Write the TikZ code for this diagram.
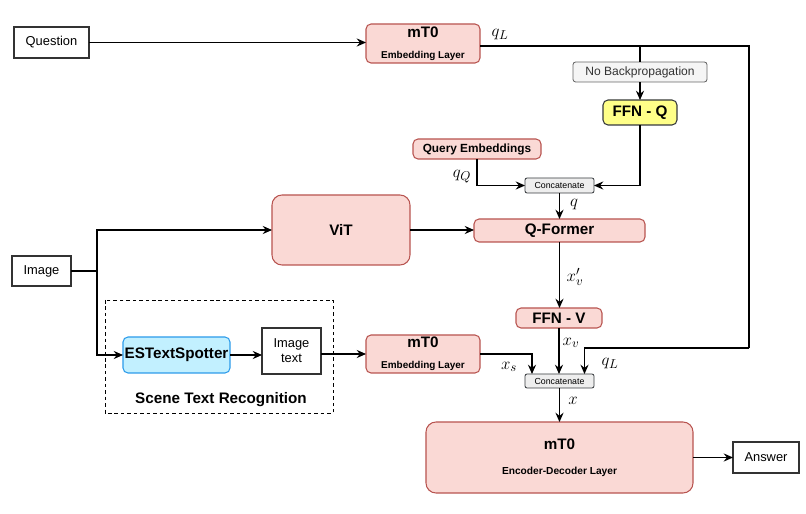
\documentclass[tikz,border=0pt]{standalone}
\usepackage{fontspec}
\setmainfont{Liberation Sans}
\usetikzlibrary{arrows.meta, calc}

\definecolor{pinkfill}{HTML}{FAD9D5}
\definecolor{pinkline}{HTML}{B85450}
\definecolor{yelfill}{HTML}{FFFF88}
\definecolor{darkline}{HTML}{36393D}
\definecolor{cyanfill}{HTML}{C2F0FF}
\definecolor{cyanline}{HTML}{2C9BEA}
\definecolor{grayfill}{HTML}{F5F5F5}
\definecolor{grayline}{HTML}{666666}
\definecolor{graytext}{HTML}{333333}
\definecolor{catfill}{HTML}{EEEEEE}

\begin{document}
\begin{tikzpicture}[x=0.03cm, y=-0.03cm,
  plain/.style={draw=black!80, line width=0.9pt, inner sep=0pt, outer sep=0pt, fill=white,
    font=\fontsize{11}{13}\selectfont, align=center},
  block/.style={draw=pinkline, fill=pinkfill, line width=0.9pt, rounded corners=0.15cm,
    inner sep=0pt, outer sep=0pt, align=center, font=\fontsize{13}{15}\selectfont\bfseries},
  bigblock/.style={block, rounded corners=0.3cm},
  catbox/.style={draw=darkline, fill=catfill, line width=0.7pt, rounded corners=0.06cm,
    inner sep=0pt, outer sep=0pt, font=\fontsize{7.5}{8}\selectfont},
  line/.style={draw=black, line width=0.9pt},
  arrow/.style={line, -{Stealth[length=8pt, width=7pt, inset=2.8pt]}},
  lbl/.style={inner sep=0pt, font=\fontsize{15}{15}\selectfont}
]
\useasboundingbox (0,0) rectangle (806,514);

% inputs
\node[plain, minimum width=2.25cm, minimum height=0.93cm] (question) at (51.5,42.5) {Question};
\node[plain, minimum width=1.77cm, minimum height=0.9cm] (image) at (41.5,271) {Image};
\node[plain, minimum width=1.98cm, minimum height=0.93cm] (answer) at (766,457.5) {Answer};

% question branch
\node[block, minimum width=3.42cm, minimum height=1.17cm] (mt0a) at (423,43.5)
  {mT0\\[3pt]{\fontsize{8.5}{9}\selectfont Embedding Layer}};
\node[draw=grayline, fill=grayfill, line width=0.7pt, rounded corners=0.08cm, inner sep=0pt,
  text=graytext, font=\fontsize{10.3}{12}\selectfont, minimum width=4.02cm, minimum height=0.6cm]
  (nobp) at (640,72) {No Backpropagation};
\node[block, draw=darkline, fill=yelfill, minimum width=2.22cm, minimum height=0.75cm]
  (ffnq) at (640,112.5) {FFN - Q};
\node[block, font=\fontsize{10.1}{12}\selectfont\bfseries, minimum width=3.84cm, minimum height=0.6cm]
  (qemb) at (477,149) {Query Embeddings};
\node[catbox, minimum width=2.07cm, minimum height=0.45cm] (concat1) at (559.5,185.5) {Concatenate};

% vision branch
\node[bigblock, minimum width=4.14cm, minimum height=2.1cm] (vit) at (341,230) {ViT};
\node[block, minimum width=5.13cm, minimum height=0.69cm] (qformer) at (559.5,230.5) {Q-Former};
\node[block, minimum width=2.58cm, minimum height=0.6cm] (ffnv) at (559,318) {FFN - V};

% scene text
\draw[line width=0.8pt, dash pattern=on 3pt off 2.5pt] (105,300) rectangle (333,413);
\node[font=\fontsize{13}{15}\selectfont\bfseries] (strlabel) at (221,400) {Scene Text Recognition};
\node[block, draw=cyanline, fill=cyanfill, minimum width=3.21cm, minimum height=1.08cm]
  (es) at (176.5,355) {ESTextSpotter};
\node[plain, minimum width=1.77cm, minimum height=1.38cm] (imgtext) at (291.5,351) {Image\\text};
\node[block, minimum width=3.42cm, minimum height=1.14cm] (mt0b) at (423,354)
  {mT0\\[3pt]{\fontsize{8.5}{9}\selectfont Embedding Layer}};

% fusion
\node[catbox, minimum width=2.07cm, minimum height=0.42cm] (concat2) at (559.5,381) {Concatenate};
\node[bigblock, minimum width=8.01cm, minimum height=2.13cm] (encdec) at (559.5,457.5)
  {mT0\\[6pt]{\fontsize{8.7}{10}\selectfont Encoder-Decoder Layer}};

% connectors
\coordinate (qlturn) at (749,46);
\coordinate (qlback) at (749,348);
\coordinate (split) at (97,271);
\draw[arrow] (question.east) -- (question.east -| mt0a.west);
\draw[line] (mt0a.east |- qlturn) -- (qlturn) -- (qlback);
\draw[arrow] (qlback) -| ($(concat2.north)+(25,0)$);
\draw[line] (nobp.north |- qlturn) -- (nobp.north);
\draw[arrow] (nobp.south) -- (ffnq.north);
\draw[arrow] (qemb.south) |- (concat1.west);
\draw[arrow] (ffnq.south) |- (concat1.east);
\draw[arrow] (concat1.south) -- (qformer.north);
\draw[arrow] (vit.east) -- (vit.east -| qformer.west);
\draw[line] (image.east) -- (split);
\draw[arrow] (split) |- (vit.west);
\draw[arrow] (split) |- (es.west);
\draw[arrow] (es.east) -- (es.east -| imgtext.west);
\draw[arrow] (imgtext.east |- mt0b.west) -- (mt0b.west);
\draw[arrow] (qformer.south) -- (qformer.south |- ffnv.north);
\draw[arrow] (ffnv.south) -- (ffnv.south |- concat2.north);
\draw[arrow] (mt0b.east) -| ($(concat2.north)+(-27.5,0)$);
\draw[arrow] (concat2.south) -- (encdec.north);
\draw[arrow] (encdec.east) -- (encdec.east -| answer.west);

% labels
\node[lbl] (lqla) at (500,35) {$q_L$};
\node[lbl] (lqq) at (462,177) {$q_Q$};
\node[lbl] (lq) at (574,205) {$q$};
\node[lbl] (lxvp) at (575,277) {$x'_v$};
\node[lbl] (lxv) at (571,343) {$x_v$};
\node[lbl] (lxs) at (509,367) {$x_s$};
\node[lbl] (lqlb) at (610,364) {$q_L$};
\node[lbl] (lx) at (573,401) {$x$};
\end{tikzpicture}
\end{document}
